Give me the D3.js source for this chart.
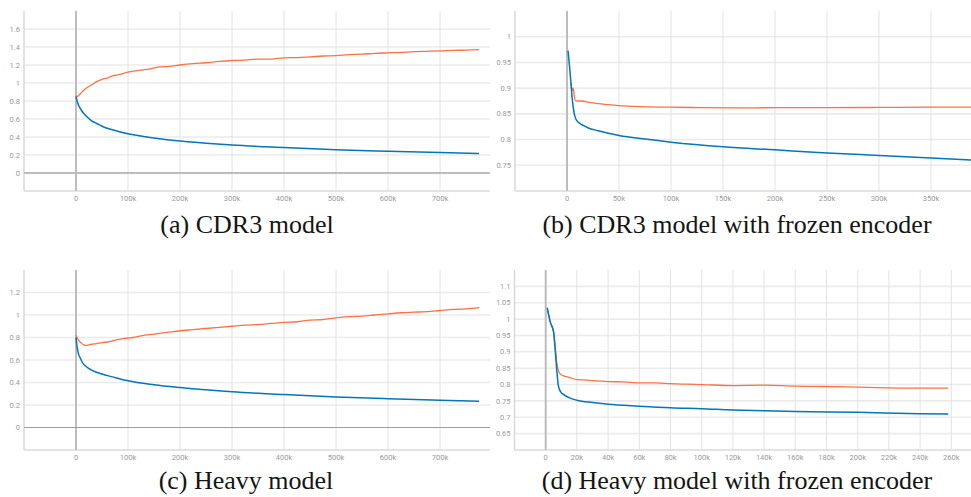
<!DOCTYPE html>
<html>
<head>
<meta charset="utf-8">
<script src="https://cdn.jsdelivr.net/npm/d3@7"></script>
<style>
  body { margin: 0; background: #fff; }
  svg { display: block; }
</style>
</head>
<body>
<script>
"use strict";

// step values are in thousands
const cdr3TrainX = [0, 3, 6, 10, 15, 20, 30, 40, 50, 70, 100, 150, 200, 250, 300, 400, 500, 600, 700, 775];
const cdr3TrainY = [0.85, 0.78, 0.74, 0.70, 0.66, 0.63, 0.58, 0.55, 0.52, 0.48, 0.435, 0.39, 0.355, 0.33, 0.31, 0.282, 0.258, 0.241, 0.227, 0.216];
const cdr3ValX = [0, 3, 6, 10, 15, 20, 30, 40, 50, 60, 70, 80, 90, 100, 120, 140, 160, 180, 200, 225, 250, 275, 300, 325, 350, 375, 400, 425, 450, 475, 500, 525, 550, 575, 600, 625, 650, 675, 700, 725, 750, 775];
const cdr3ValY = [0.86, 0.85, 0.865, 0.89, 0.92, 0.945, 0.98, 1.015, 1.04, 1.055, 1.08, 1.09, 1.105, 1.12, 1.14, 1.155, 1.18, 1.185, 1.20, 1.215, 1.225, 1.24, 1.25, 1.255, 1.265, 1.265, 1.28, 1.282, 1.29, 1.30, 1.305, 1.315, 1.32, 1.33, 1.335, 1.34, 1.348, 1.352, 1.356, 1.362, 1.365, 1.37];

const cdr3FrozenTrainX = [1, 3, 5, 7, 9, 12, 16, 20, 30, 50, 75, 100, 150, 200, 250, 300, 350, 389];
const cdr3FrozenTrainY = [0.973, 0.93, 0.88, 0.85, 0.838, 0.832, 0.827, 0.823, 0.817, 0.808, 0.801, 0.795, 0.786, 0.780, 0.774, 0.769, 0.764, 0.760];
const cdr3FrozenValX = [4, 5, 6, 7, 8, 10, 15, 20, 30, 40, 50, 70, 100, 130, 160, 200, 250, 300, 350, 389];
const cdr3FrozenValY = [0.91, 0.895, 0.90, 0.885, 0.876, 0.875, 0.875, 0.873, 0.870, 0.868, 0.866, 0.864, 0.863, 0.862, 0.8615, 0.862, 0.862, 0.8625, 0.863, 0.863];

const heavyTrainX = [0, 2, 5, 8, 12, 20, 30, 50, 70, 100, 150, 200, 300, 400, 500, 600, 700, 775];
const heavyTrainY = [0.80, 0.72, 0.65, 0.62, 0.58, 0.54, 0.51, 0.475, 0.45, 0.415, 0.38, 0.355, 0.317, 0.293, 0.272, 0.256, 0.243, 0.234];
const heavyValX = [0, 3, 6, 10, 15, 20, 25, 30, 40, 50, 60, 75, 90, 100, 110, 125, 150, 175, 200, 225, 250, 275, 300, 325, 350, 375, 400, 425, 450, 475, 500, 525, 550, 575, 600, 625, 650, 675, 700, 725, 750, 775];
const heavyValY = [0.82, 0.79, 0.77, 0.75, 0.735, 0.73, 0.735, 0.74, 0.745, 0.755, 0.76, 0.775, 0.79, 0.795, 0.80, 0.815, 0.83, 0.845, 0.86, 0.87, 0.88, 0.89, 0.90, 0.91, 0.915, 0.925, 0.935, 0.94, 0.955, 0.96, 0.975, 0.985, 0.99, 1.0, 1.01, 1.02, 1.025, 1.03, 1.04, 1.05, 1.055, 1.065];

const heavyFrozenTrainX = [1, 3, 5, 6, 7, 8, 9, 10, 12, 15, 20, 30, 40, 60, 80, 100, 120, 140, 160, 200, 240, 258];
const heavyFrozenTrainY = [1.035, 0.99, 0.963, 0.91, 0.85, 0.80, 0.783, 0.775, 0.768, 0.76, 0.752, 0.745, 0.74, 0.734, 0.729, 0.726, 0.722, 0.72, 0.718, 0.715, 0.711, 0.71];
const heavyFrozenValX = [1, 3, 5, 6, 7, 8, 9, 10, 12, 15, 20, 25, 30, 40, 50, 60, 70, 80, 90, 100, 120, 140, 160, 180, 200, 220, 240, 258];
const heavyFrozenValY = [1.03, 0.99, 0.96, 0.92, 0.87, 0.845, 0.834, 0.83, 0.826, 0.822, 0.815, 0.814, 0.812, 0.809, 0.808, 0.805, 0.805, 0.803, 0.801, 0.800, 0.797, 0.798, 0.795, 0.794, 0.792, 0.790, 0.789, 0.789];

const ticksA = [0, 100, 200, 300, 400, 500, 600, 700];
const ticksB = [0, 50, 100, 150, 200, 250, 300, 350];
const ticksD = [0, 20, 40, 60, 80, 100, 120, 140, 160, 180, 200, 220, 240, 260];
const yTicksA = [0, 0.2, 0.4, 0.6, 0.8, 1, 1.2, 1.4, 1.6];
const yTicksB = [0.75, 0.8, 0.85, 0.9, 0.95, 1];
const yTicksC = [0, 0.2, 0.4, 0.6, 0.8, 1, 1.2];
const yTicksD = [0.65, 0.7, 0.75, 0.8, 0.85, 0.9, 0.95, 1, 1.05, 1.1];

const captions = ["(a) CDR3 model", "(b) CDR3 model with frozen encoder", "(c) Heavy model", "(d) Heavy model with frozen encoder"];

const colors = { train: "#0077bb", val: "#ff7043" };

const width = 971, height = 497;

const panels = [
  { left: 24, right: 490, top: 11, bottom: 191, xDomain: [-100, 796], yDomain: [-0.2, 1.8],
    xTicks: ticksA, yTicks: yTicksA, train: [cdr3TrainX, cdr3TrainY], val: [cdr3ValX, cdr3ValY],
    caption: captions[0], capX: 247, capY: 233, zeroH: { color: "#bdbdbd", w: 2 } },
  { left: 515, right: 971, top: 11, bottom: 191, xDomain: [-50, 388.5], yDomain: [0.7, 1.05],
    xTicks: ticksB, yTicks: yTicksB, train: [cdr3FrozenTrainX, cdr3FrozenTrainY], val: [cdr3FrozenValX, cdr3FrozenValY],
    caption: captions[1], capX: 737, capY: 233 },
  { left: 24, right: 490, top: 270, bottom: 450, xDomain: [-100, 796], yDomain: [-0.2, 1.4],
    xTicks: ticksA, yTicks: yTicksC, train: [heavyTrainX, heavyTrainY], val: [heavyValX, heavyValY],
    caption: captions[2], capX: 246, capY: 489, zeroH: { color: "#9e9e9e", w: 1.2 } },
  { left: 514.5, right: 971, top: 270, bottom: 450, xDomain: [-20, 272.6], yDomain: [0.6, 1.15],
    xTicks: ticksD, yTicks: yTicksD, train: [heavyFrozenTrainX, heavyFrozenTrainY], val: [heavyFrozenValX, heavyFrozenValY],
    caption: captions[3], capX: 737, capY: 489 }
];

const svg = d3.select("body").append("svg")
  .attr("width", width)
  .attr("height", height);

panels.forEach(drawPanel);

function drawPanel(p) {
  const x = d3.scaleLinear().domain(p.xDomain).range([p.left, p.right]);
  const y = d3.scaleLinear().domain(p.yDomain).range([p.bottom, p.top]);
  const g = svg.append("g");

  // grid
  g.selectAll(".hgrid")
    .data(p.yTicks.filter(d => d !== 0))
    .enter().append("line")
      .attr("x1", p.left).attr("x2", p.right)
      .attr("y1", d => y(d)).attr("y2", d => y(d))
      .attr("stroke", "#ebebeb")
      .attr("stroke-width", 1.6);

  g.selectAll(".vgrid")
    .data(p.xTicks.filter(d => d !== 0))
    .enter().append("line")
      .attr("x1", d => x(d)).attr("x2", d => x(d))
      .attr("y1", p.top).attr("y2", p.bottom)
      .attr("stroke", "#e2e2e2")
      .attr("stroke-width", 1);

  // axes frame
  g.append("line")
    .attr("x1", p.left).attr("x2", p.left)
    .attr("y1", p.top).attr("y2", p.bottom)
    .attr("stroke", "#d8d8d8").attr("stroke-width", 1.5);
  g.append("line")
    .attr("x1", p.left).attr("x2", p.right)
    .attr("y1", p.bottom).attr("y2", p.bottom)
    .attr("stroke", "#dadada").attr("stroke-width", 1.5);

  // zero lines
  g.append("line")
    .attr("x1", x(0)).attr("x2", x(0))
    .attr("y1", p.top).attr("y2", p.bottom)
    .attr("stroke", "#bdbdbd").attr("stroke-width", 2);
  if (p.zeroH) {
    g.append("line")
      .attr("x1", p.left).attr("x2", p.right)
      .attr("y1", y(0)).attr("y2", y(0))
      .attr("stroke", p.zeroH.color).attr("stroke-width", p.zeroH.w);
  }

  // tick labels
  g.selectAll(".xlab")
    .data(p.xTicks)
    .enter().append("text")
      .attr("x", d => x(d))
      .attr("y", p.bottom + 9.5)
      .attr("text-anchor", "middle")
      .attr("font-family", "Roboto, sans-serif")
      .attr("font-size", "7.5px")
      .attr("fill", "#9a9a9a")
      .text(d => d === 0 ? "0" : d + "k");

  g.selectAll(".ylab")
    .data(p.yTicks)
    .enter().append("text")
      .attr("x", p.left - 4)
      .attr("y", d => y(d) + 2.6)
      .attr("text-anchor", "end")
      .attr("font-family", "Roboto, sans-serif")
      .attr("font-size", "7.5px")
      .attr("fill", "#9a9a9a")
      .text(d => d3.format("~g")(d));

  const line = d3.line()
    .x(d => x(d[0]))
    .y(d => y(d[1]))
    .curve(d3.curveMonotoneX);

  const valPts = p.val[0].map((v, i) => [v, p.val[1][i]]);
  const trainPts = p.train[0].map((v, i) => [v, p.train[1][i]]);

  g.append("path")
    .datum(valPts)
    .attr("d", line)
    .attr("fill", "none")
    .attr("stroke", colors.val)
    .attr("stroke-width", 1.3);

  g.append("path")
    .datum(trainPts)
    .attr("d", line)
    .attr("fill", "none")
    .attr("stroke", colors.train)
    .attr("stroke-width", 1.5);

  svg.append("text")
    .attr("x", p.capX)
    .attr("y", p.capY)
    .attr("text-anchor", "middle")
    .attr("font-family", "'Liberation Serif', serif")
    .attr("font-size", "26px")
    .attr("fill", "#151515")
    .text(p.caption);
}
</script>
</body>
</html>
